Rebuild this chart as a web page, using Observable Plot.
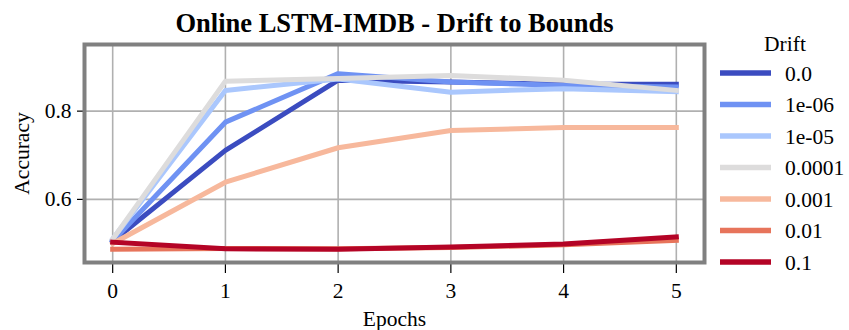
<!DOCTYPE html>
<html>
<head>
<meta charset="utf-8">
<script src="https://cdn.jsdelivr.net/npm/d3@7"></script>
<script src="https://cdn.jsdelivr.net/npm/@observablehq/plot@0.6"></script>
<style>
  html, body { margin: 0; padding: 0; background: white; }
  #chart svg { display: block; }
  #chart svg text { font-family: 'Liberation Serif', 'Times New Roman', serif; }
</style>
</head>
<body>
<div id="chart"></div>
<script>
const title = "Online LSTM-IMDB - Drift to Bounds";
const xLabel = "Epochs";
const yLabel = "Accuracy";
const legendTitle = "Drift";

const epochs = [0, 1, 2, 3, 4, 5];
const drifts = ["0.0", "1e-06", "1e-05", "0.0001", "0.001", "0.01", "0.1"];
const colors = ["#3b4cc0", "#6f92f3", "#aac7fd", "#dddcdc", "#f7b89c", "#e7745b", "#b40426"];

const acc_0      = [0.505, 0.711, 0.870, 0.866, 0.861, 0.861];
const acc_1e6    = [0.505, 0.775, 0.885, 0.866, 0.858, 0.855];
const acc_1e5    = [0.510, 0.847, 0.873, 0.843, 0.851, 0.844];
const acc_1e4    = [0.510, 0.868, 0.874, 0.881, 0.870, 0.847];
const acc_1e3    = [0.500, 0.639, 0.717, 0.756, 0.763, 0.763];
const acc_1e2    = [0.487, 0.489, 0.488, 0.491, 0.497, 0.507];
const acc_1e1    = [0.503, 0.488, 0.487, 0.492, 0.499, 0.515];

const xTicks = [0, 1, 2, 3, 4, 5];
const yTicks = [0.6, 0.8];

const series = [acc_0, acc_1e6, acc_1e5, acc_1e4, acc_1e3, acc_1e2, acc_1e1];
const rows = [];
drifts.forEach((d, i) => {
  epochs.forEach((e, j) => rows.push({epoch: e, drift: d, acc: series[i][j]}));
});

const W = 849, H = 330;
const mLeft = 84, mRight = 145, mTop = 44, mBottom = 68;
const serif = "'Liberation Serif', 'Times New Roman', serif";
const fs = 21.5;

const plot = Plot.plot({
  width: W,
  height: H,
  marginLeft: mLeft,
  marginRight: mRight,
  marginTop: mTop,
  marginBottom: mBottom,
  style: {fontFamily: serif, fontSize: fs + "px", background: "white", color: "black"},
  x: {domain: [-0.25, 5.25]},
  y: {domain: [0.457, 0.951]},
  color: {domain: drifts, range: colors},
  marks: [
    Plot.gridX(xTicks, {stroke: "#b0b0b0", strokeOpacity: 1, strokeWidth: 1.6}),
    Plot.gridY(yTicks, {stroke: "#b0b0b0", strokeOpacity: 1, strokeWidth: 1.6}),
    Plot.line(rows, {x: "epoch", y: "acc", z: "drift", stroke: "drift", strokeWidth: 5, strokeLinecap: "square", strokeLinejoin: "round"}),
    Plot.axisX({ticks: xTicks, tickFormat: d3.format("d"), tickSize: 11, tickPadding: 9, fontSize: fs, fontFamily: serif, fontVariant: "normal", stroke: "black", strokeWidth: 1.2,
      label: xLabel, labelAnchor: "center", labelArrow: "none", labelOffset: 63}),
    Plot.axisY({ticks: yTicks, tickFormat: d3.format(".1f"), tickSize: 7, tickPadding: 6, fontSize: fs, fontFamily: serif, fontVariant: "normal", stroke: "black", strokeWidth: 1.2,
      label: yLabel, labelAnchor: "center", labelArrow: "none", labelOffset: 71}),
    Plot.frame({stroke: "#808080", strokeWidth: 4}),
    Plot.text([title], {frameAnchor: "top", dy: -21, lineAnchor: "middle", fontSize: 26.5, fontWeight: "bold", fontFamily: serif, text: d => d})
  ]
});

document.getElementById("chart").appendChild(plot);

// Legend (drawn into the same SVG)
const svg = d3.select(plot);
const lg = svg.append("g").attr("font-family", serif).attr("font-size", fs);
lg.append("text").attr("x", 785).attr("y", 43).attr("text-anchor", "middle").attr("dy", "0.35em").text(legendTitle);
drifts.forEach((d, i) => {
  const y = 73 + i * 31.5;
  lg.append("line").attr("x1", 720).attr("x2", 771).attr("y1", y).attr("y2", y)
    .attr("stroke", colors[i]).attr("stroke-width", 5.5);
  lg.append("text").attr("x", 785).attr("y", y).attr("dy", "0.35em").attr("text-anchor", "start").text(d);
});
</script>
</body>
</html>
